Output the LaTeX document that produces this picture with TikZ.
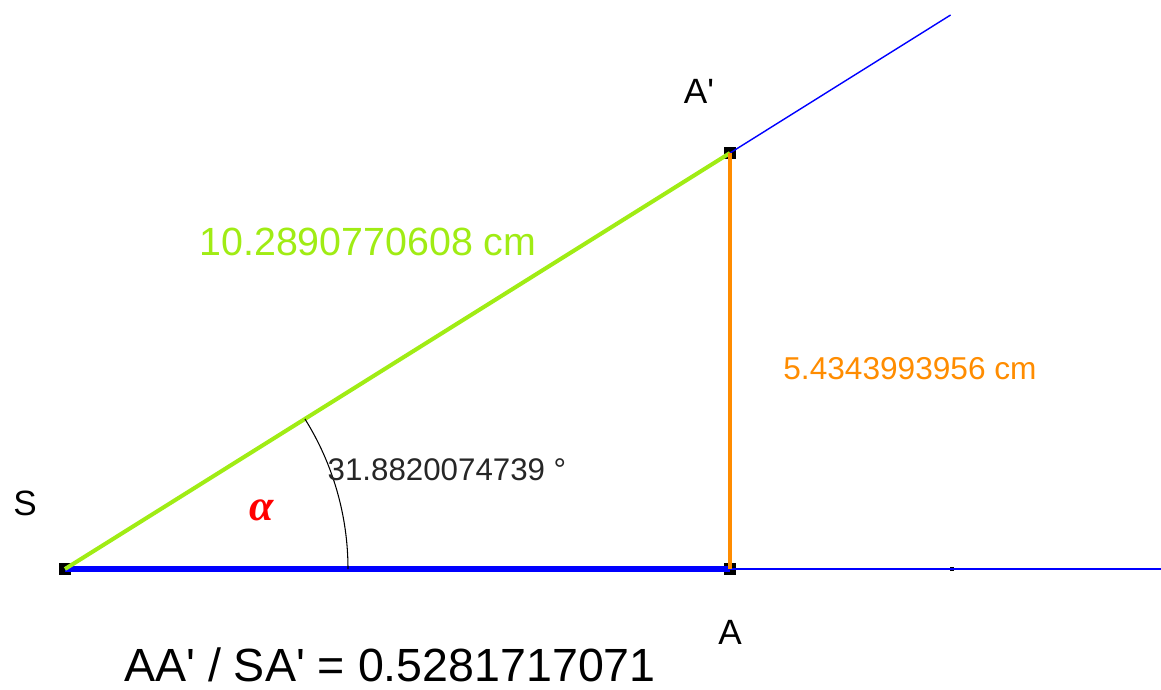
\documentclass[tikz,border=0pt]{standalone}
\usepackage{fontspec}
\setmainfont{Liberation Sans}[Ligatures=TeXOff]
\newfontfamily\serifit{Liberation Serif}
\usetikzlibrary{calc}
\begin{document}
\begin{tikzpicture}[x=0.02cm,y=-0.02cm,
  lbl/.style={inner sep=0pt,anchor=center},
  ptmark/.style={draw=black,fill=black,minimum size=6pt,inner sep=0pt,rectangle},
  smalldot/.style={fill=black,minimum size=2.5pt,inner sep=0pt,rectangle}]
\definecolor{lime}{RGB}{160,236,20}
\definecolor{orng}{RGB}{255,140,0}
\definecolor{blu}{RGB}{0,0,255}
\useasboundingbox (0,0) rectangle (1161,690);
\coordinate (S) at (65,569);
\coordinate (A) at (730,569);
\coordinate (Ap) at (730,153);
\coordinate (Rend) at (1161,569);
\coordinate (Uend) at (950.6,15);
\coordinate (D) at (952,569);
\coordinate (ArcStart) at (348,569);
% points
\node[ptmark] (pS) at (S) {};
\node[ptmark] (pA) at (A) {};
\node[ptmark] (pAp) at (Ap) {};
\node[smalldot] (pD) at (D) {};
% thin blue rays
\draw[blu,line width=0.8pt] (A) -- (Rend);
\draw[blu,line width=0.8pt] (Ap) -- (Uend);
% thick segments
\draw[blu,line width=3pt] (S) -- (A);
\draw[lime,line width=2.3pt] (S) -- (Ap);
\draw[orng,line width=2.3pt] (A) -- (Ap);
% arc
\draw[black,line width=0.6pt] (ArcStart) arc[start angle=0,end angle=-32.03,radius=283];
% labels
\node[lbl,font=\fontsize{20}{24}\selectfont] (lS) at (25,503) {S};
\node[lbl,font=\fontsize{20}{24}\selectfont] (lAp) at (699,91) {A'};
\node[lbl,font=\fontsize{20}{24}\selectfont] (lA) at (730,632) {A};
\node[lbl,lime,font=\fontsize{22.4}{26}\selectfont] (lg) at (368,242) {10.2890770608 cm};
\node[lbl,orng,font=\fontsize{18}{22}\selectfont] (lo) at (910,369) {5.4343993956 cm};
\node[lbl,black!85,font=\fontsize{17.8}{22}\selectfont] (lang) at (447,470) {31.8820074739 °};
\node[lbl,red,font=\serifit\bfseries\itshape\fontsize{25}{28}\selectfont] (lal) at (262,510) {α};
\node[lbl,font=\fontsize{26.5}{32}\selectfont] (lr) at (390,665) {AA' / SA' = 0.5281717071};
\end{tikzpicture}
\end{document}
